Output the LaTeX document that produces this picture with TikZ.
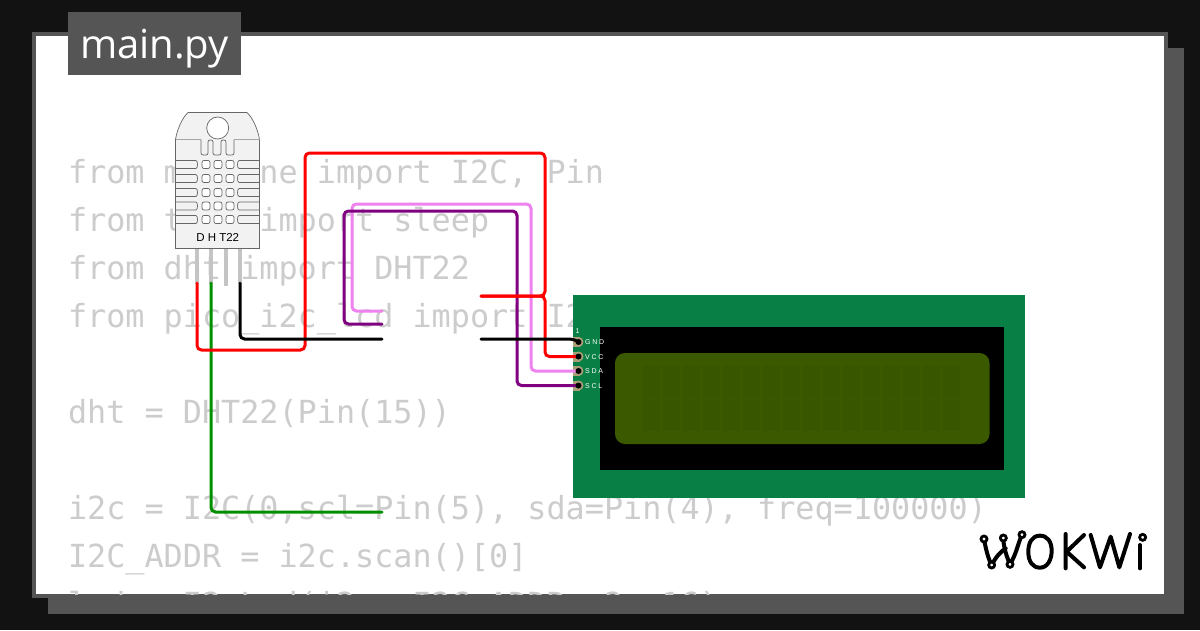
\documentclass[tikz,border=0pt]{standalone}
\usepackage{fontspec}
\setmonofont{DejaVu Sans Mono}
\setsansfont{Open Sans}
\newfontfamily\labelfont{Liberation Sans}
\definecolor{bgc}{HTML}{121212}
\definecolor{panelgray}{HTML}{555555}
\definecolor{codegray}{HTML}{CCCCCC}
\definecolor{pcb}{HTML}{087F45}
\definecolor{lcdback}{HTML}{3B5A00}
\definecolor{lcdcell}{HTML}{385500}
\definecolor{padtan}{HTML}{A89F78}
\definecolor{wgreen}{HTML}{008F00}
\definecolor{wviolet}{HTML}{EE82EE}
\definecolor{wpurple}{HTML}{800080}
\definecolor{dhtbody}{HTML}{F2F2F2}
\definecolor{dhtpin}{HTML}{C4C4C4}
\tikzset{
 codeline/.style={anchor=base west,inner sep=0,outer sep=0,font=\fontsize{31.8}{32}\selectfont\ttfamily,text=codegray},
 wirepath/.style={line width=3pt,rounded corners=4.5pt,line cap=round},
 dhtline/.style={draw=black!60,line width=0.7pt,rounded corners=2pt},
 pinlabel/.style={anchor=base west,inner sep=0,text=white,font=\fontsize{7}{8}\selectfont\labelfont},
 logostroke/.style={line width=4pt,line cap=round,line join=round},
 logoring/.style={circle,draw=black,fill=white,line width=2.8pt,inner sep=0,minimum size=6pt},
}
\newcommand{\trk}[3]{#1\kern1.7pt #2\kern1.7pt #3}
\begin{document}
\begin{tikzpicture}[x=1pt,y=-1pt]
\useasboundingbox (0,0) rectangle (1200,630);
\fill[bgc] (0,0) rectangle (1200,630);
\fill[panelgray] (48,48) rectangle (1184,614);
\fill[panelgray] (32,32) rectangle (1168,598);
\fill[white] (36,36) rectangle (1164,594);
% code
\begin{scope}
\clip (36,36) rectangle (1164,594);
\node[codeline] (c1) at (68,183.5) {from machine import I2C, Pin};
\node[codeline] (c2) at (68,231.5) {from time import sleep};
\node[codeline] (c3) at (68,279.5) {from dht import DHT22};
\node[codeline] (c4) at (68,327.5) {from pico\_i2c\_lcd import I2cLcd};
\node[codeline] (c5) at (68,423.5) {dht = DHT22(Pin(15))};
\node[codeline] (c6) at (68,519.5) {i2c = I2C(0,scl=Pin(5), sda=Pin(4), freq=100000)};
\node[codeline] (c7) at (68,567.5) {I2C\_ADDR = i2c.scan()[0]};
\node[codeline] (c8) at (68,615.5) {lcd = I2cLcd(i2c, I2C\_ADDR, 2, 16)};
\end{scope}
% title
\fill[panelgray] (68,12) rectangle (241,75);
\node[anchor=base west,inner sep=0,text=white,font=\fontsize{40}{40}\selectfont\sffamily] (title) at (80,58) {main.py};
% DHT22
\foreach \px in {197,211,240}
  \draw[line width=3.5pt,draw=dhtpin] (\px,249) -- (\px,284);
\draw[line width=3.5pt,draw=dhtpin] (226,249) -- (226,286);
\draw[draw=black!60,fill=dhtbody,line width=0.7pt] (175.5,248.5) -- (175.5,139.5) .. controls (177,130) and (182,118) .. (188,112.5) -- (247,112.5) .. controls (253,118) and (258,130) .. (259.5,139.5) -- (259.5,248.5) -- cycle;
\draw[draw=black!60,fill=white,line width=0.7pt] (217.7,128) circle (11);
\draw[draw=black!35,line width=0.6pt] (175.5,139.5) -- (201,139.5) (234,139.5) -- (259.5,139.5);
\draw[dhtline] (201,139.5) -- (201,155) -- (208,155) -- (208,140) -- (213,140) -- (213,155) -- (221,155) -- (221,140) -- (226,140) -- (226,155) -- (234,155) -- (234,139.5);
\foreach \ry in {160.5,174.5,188.5,202,215.5} {
  \draw[dhtline] (175.5,\ry) -- (194,\ry) .. controls (198,\ry) and (198,\ry+8) .. (194,\ry+8) -- (175.5,\ry+8);
  \draw[dhtline] (259.5,\ry) -- (241,\ry) .. controls (237,\ry) and (237,\ry+8) .. (241,\ry+8) -- (259.5,\ry+8);
  \foreach \cx in {202,214,226}
    \draw[dhtline,fill=white] (\cx,\ry) rectangle ++(8,8);
}
\node[anchor=base,inner sep=0,font=\fontsize{11.5}{12}\selectfont\labelfont] (dhtlabel) at (217.7,241) {D H T22};
% LCD
\fill[pcb] (572.5,295) rectangle (1025,498);
\fill[black] (600,327) rectangle (1004,470);
\fill[lcdback,rounded corners=10pt] (615,353) rectangle (989.5,444);
\foreach \i in {0,...,15} {
  \fill[lcdcell] ({643+\i*20},366) rectangle ++(17,32);
  \fill[lcdcell] ({643+\i*20},399) rectangle ++(17,32);
}
\node[pinlabel] (one) at (575.5,333) {1};
\coordinate (pgnd) at (578.5,342);
\coordinate (pvcc) at (578.5,356.5);
\coordinate (psda) at (578.5,371);
\coordinate (pscl) at (578.5,385.5);
\foreach \pn in {pgnd,pvcc,psda,pscl} {
  \fill[padtan] (\pn)+(-5.5,-5) rectangle +(1,5);
  \fill[padtan] (\pn) circle (5);
}
\node[pinlabel] (lgnd) at (585,344.7) {\trk GND};
\node[pinlabel] (lvcc) at (585,359.2) {\trk VCC};
\node[pinlabel] (lsda) at (585,373.7) {\trk SDA};
\node[pinlabel] (lscl) at (585,388.2) {\trk SCL};
% wire ends
\coordinate (dhtvcc) at (197,283);
\coordinate (dhtsda) at (211,283);
\coordinate (dhtgnd) at (240,283);
\coordinate (mvcc) at (481,296);
\coordinate (mgnd) at (481,339);
\coordinate (mpink) at (382,311);
\coordinate (mpurple) at (382,324);
\coordinate (mblack) at (382,339);
\coordinate (mgreen) at (382,512);
% wires
\draw[wirepath,draw=wgreen] (dhtsda) -- (211,512) -- (mgreen);
\draw[wirepath,draw=wviolet] (mpink) -- (352,311) -- (352,204) -- (531,204) -- (531,371) -- (psda);
\draw[wirepath,draw=wpurple] (mpurple) -- (344,324) -- (344,211) -- (517,211) -- (517,385.5) -- (pscl);
\draw[wirepath,draw=red] (dhtvcc) -- (197,350) -- (305,350) -- (305,153) -- (545,153) -- (545,296) -- (mvcc);
\draw[wirepath,draw=red] (mvcc) -- (545,296) -- (545,356.5) -- (pvcc);
\draw[wirepath,draw=black] (dhtgnd) -- (240,339) -- (mblack);
\draw[wirepath,draw=black] (mgnd) -- (574,339) -- (pgnd);
\foreach \pn in {pgnd,pvcc,psda,pscl}
  \fill[black] (\pn) circle (3);
% logo
\begin{scope}[shift={(960,510)},x=0.3333pt,y=-0.3333pt]
\draw[logostroke] (72,87) .. controls (78,120) and (86,150) .. (95,165) (95,165) .. controls (108,140) and (122,125) .. (137,115) (130,84) .. controls (130,110) and (140,140) .. (150,163) (150,163) .. controls (170,130) and (172,105) .. (186,74);
\draw[logostroke] (240,77) .. controls (215,77) and (205,100) .. (205,125) .. controls (205,155) and (218,173) .. (240,173) .. controls (262,173) and (275,150) .. (275,122) .. controls (275,95) and (262,77) .. (240,77) -- cycle;
\draw[logostroke] (317,72) -- (317,175) (372,75) -- (320,125) -- (372,172);
\draw[logostroke] (392,75) -- (420,172) -- (452,80) -- (478,172) -- (510,72);
\draw[logostroke] (540,105) -- (540,175);
\foreach \lx/\ly in {72/87,130/84,186/74,95/165,150/163,548/82}
  \node[logoring] at (\lx,\ly) {};
\end{scope}
\end{tikzpicture}
\end{document}
